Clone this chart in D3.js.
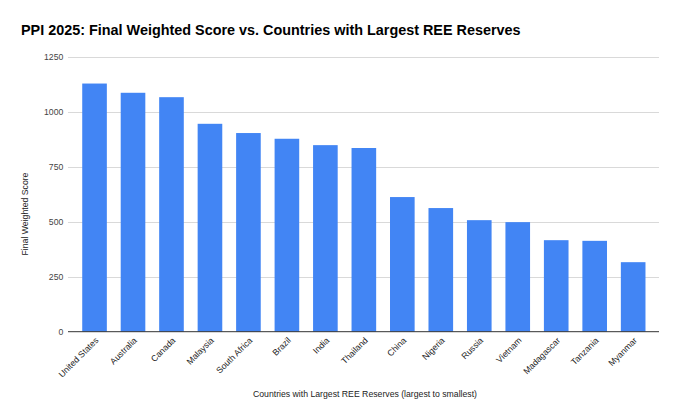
<!DOCTYPE html>
<html><head><meta charset="utf-8">
<script src="https://cdn.jsdelivr.net/npm/d3@7"></script>
<style>body{margin:0;background:#fff}svg{display:block}text{font-family:"Liberation Sans",Arial,sans-serif}</style>
</head><body><svg id="c" width="680" height="420"></svg>
<script>
const countries = ["United States","Australia","Canada","Malaysia","South Africa","Brazil","India","Thailand","China","Nigeria","Russia","Vietnam","Madagascar","Tanzania","Myanmar"];
const scores = [1128,1086,1066,945,903,877,848,835,612,562,507,498,416,413,316];
const yTicks = [0,250,500,750,1000,1250];

const svg = d3.select("#c");
const W=680,H=420;
svg.append("rect").attr("width",W).attr("height",H).attr("fill","#fff");
const x = d3.scaleBand().domain(countries).range([75.3,652.4]).paddingInner(0.36).paddingOuter(0.18);
const y = d3.scaleLinear().domain([0,1250]).range([331.7,56.7]);
const gx0=68, gx1=659;

svg.append("g").selectAll("line").data(yTicks.filter(d=>d>0)).join("line")
 .attr("x1",gx0).attr("x2",gx1).attr("y1",d=>Math.round(y(d))+0.5).attr("y2",d=>Math.round(y(d))+0.5)
 .attr("stroke","#d9d9d9").attr("stroke-width",1);

svg.append("g").selectAll("text").data(yTicks).join("text")
 .attr("x",63.3).attr("y",d=>y(d)+3.1).attr("text-anchor","end")
 .attr("font-size",8.7).attr("fill","#444").text(d=>d);

svg.append("g").selectAll("rect").data(countries).join("rect")
 .attr("x",d=>x(d)).attr("width",x.bandwidth())
 .attr("y",(d,i)=>y(scores[i])).attr("height",(d,i)=>y(0)-y(scores[i]))
 .attr("fill","#4285f4");

svg.append("line").attr("x1",gx0).attr("x2",gx1).attr("y1",331.7).attr("y2",331.7).attr("stroke","#333").attr("stroke-width",1);

svg.append("g").selectAll("text").data(countries).join("text")
 .attr("transform",d=>`translate(${x(d)+x.bandwidth()/2+4.5},${341}) rotate(-45)`)
 .attr("text-anchor","end").attr("font-size",8.7).attr("fill","#222").text(d=>d);

svg.append("text").attr("x",21).attr("y",34.5).attr("font-size",14.4).attr("font-weight","bold").attr("fill","#000")
 .text("PPI 2025: Final Weighted Score vs. Countries with Largest REE Reserves");

svg.append("text").attr("x",365).attr("y",397).attr("text-anchor","middle").attr("font-size",8.7).attr("fill","#222")
 .text("Countries with Largest REE Reserves (largest to smallest)");

svg.append("text").attr("transform","translate(28,214) rotate(-90)").attr("text-anchor","middle").attr("font-size",8.7).attr("fill","#222")
 .text("Final Weighted Score");
</script></body></html>
